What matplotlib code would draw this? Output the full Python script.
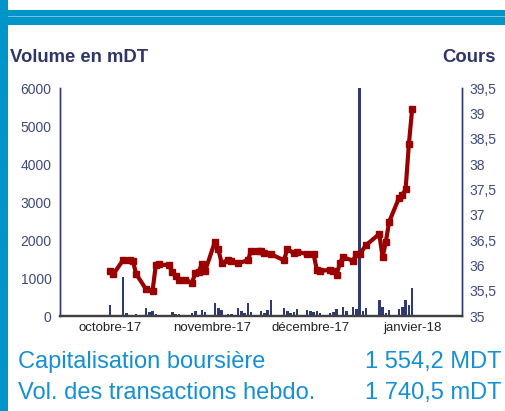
import numpy as np
import pandas as pd
import matplotlib
matplotlib.use("Agg")
import matplotlib.pyplot as plt
from matplotlib.patches import Rectangle
from matplotlib.ticker import FuncFormatter, MultipleLocator

plt.rcParams['font.family'] = ['Liberation Sans', 'DejaVu Sans']

# Cours (ligne rouge)
dates_cours = pd.to_datetime([
    "2017-10-01", "2017-10-02", "2017-10-05", "2017-10-07", "2017-10-08", "2017-10-09",
    "2017-10-12", "2017-10-14", "2017-10-15", "2017-10-16", "2017-10-19", "2017-10-20",
    "2017-10-21", "2017-10-22", "2017-10-24", "2017-10-26", "2017-10-27", "2017-10-28",
    "2017-10-29", "2017-10-30", "2017-11-02", "2017-11-03", "2017-11-04", "2017-11-06",
    "2017-11-07", "2017-11-09", "2017-11-12", "2017-11-13", "2017-11-15", "2017-11-16",
    "2017-11-17", "2017-11-19", "2017-11-23", "2017-11-24", "2017-11-26", "2017-11-27",
    "2017-11-30", "2017-12-02", "2017-12-03", "2017-12-04", "2017-12-07", "2017-12-08",
    "2017-12-09", "2017-12-10", "2017-12-11", "2017-12-14", "2017-12-15", "2017-12-16",
    "2017-12-18", "2017-12-22", "2017-12-23", "2017-12-24", "2017-12-25", "2017-12-28",
    "2017-12-29", "2017-12-30", "2017-12-31", "2018-01-01"])
cours = [35.89, 35.82, 36.10, 36.10, 36.09, 35.83, 35.53, 35.50, 36.01, 36.02, 36.00, 35.87,
         35.78, 35.71, 35.71, 35.66, 35.84, 35.87, 36.02, 35.89, 36.47, 36.32, 36.05, 36.10,
         36.08, 36.04, 36.10, 36.29, 36.29, 36.29, 36.24, 36.22, 36.10, 36.32, 36.24, 36.27,
         36.22, 36.22, 35.91, 35.89, 35.91, 35.89, 35.81, 36.04, 36.16, 36.09, 36.22, 36.22,
         36.40, 36.62, 36.16, 36.47, 36.86, 37.33, 37.39, 37.50, 38.39, 39.09]

# Volume en mDT (barres)
dates_vol = pd.to_datetime([
    "2017-10-01", "2017-10-02", "2017-10-05", "2017-10-06", "2017-10-09", "2017-10-12",
    "2017-10-13", "2017-10-14", "2017-10-15", "2017-10-20", "2017-10-21", "2017-10-22",
    "2017-10-24", "2017-10-26", "2017-10-27", "2017-10-29", "2017-10-30", "2017-11-02",
    "2017-11-03", "2017-11-04", "2017-11-06", "2017-11-07", "2017-11-09", "2017-11-10",
    "2017-11-11", "2017-11-12", "2017-11-13", "2017-11-16", "2017-11-17", "2017-11-18",
    "2017-11-19", "2017-11-23", "2017-11-24", "2017-11-25", "2017-11-26", "2017-11-27",
    "2017-11-30", "2017-12-01", "2017-12-02", "2017-12-03", "2017-12-04", "2017-12-07",
    "2017-12-08", "2017-12-09", "2017-12-11", "2017-12-12", "2017-12-14", "2017-12-15",
    "2017-12-16", "2017-12-17", "2017-12-18", "2017-12-22", "2017-12-23", "2017-12-24",
    "2017-12-25", "2017-12-28", "2017-12-29", "2017-12-30", "2017-12-31", "2018-01-01"])
volume = [290, 30, 1030, 70, 50, 220, 110, 130, 50, 100, 40, 60,
          30, 90, 120, 160, 110, 330, 200, 160, 60, 40, 220, 130,
          70, 330, 110, 130, 70, 160, 420, 220, 130, 70, 110, 180,
          160, 130, 110, 130, 70, 70, 110, 180, 250, 130, 250, 190,
          6000, 130, 220, 410, 250, 80, 150, 190, 250, 410, 280, 745]

mois_ticks = pd.to_datetime(["2017-10-01", "2017-11-01", "2017-12-01", "2018-01-01"])
mois_labels = ["octobre-17", "novembre-17", "décembre-17", "janvier-18"]

W, H = 506, 411
fig = plt.figure(figsize=(W / 100, H / 100), dpi=100)

# cadre bleu
bleu = "#0095C8"
fig.add_artist(Rectangle((0, 1 - 25 / H), 1, 15 / H, transform=fig.transFigure, color=bleu, lw=0))
fig.add_artist(Rectangle((0, 1 - 17.5 / H), 1, 1 / H, transform=fig.transFigure, color="#6cc3e4", lw=0))
fig.add_artist(Rectangle((0, 0), 8 / W, 1, transform=fig.transFigure, color=bleu, lw=0))

ax = fig.add_axes([60 / W, 1 - 316 / H, (462 - 60) / W, (316 - 88) / H])
ax2 = ax.twinx()

navy = "#2F3A72"
tickcol = "#3E4A7E"

ax.bar(dates_vol, volume, width=0.75, color=navy, zorder=2)
ax.set_ylim(0, 6000)
ax.yaxis.set_major_locator(MultipleLocator(1000))
ax.set_xlim(pd.Timestamp("2017-09-15 20:00"), pd.Timestamp("2018-01-16 04:00"))
ax.set_xticks(mois_ticks)
ax.set_xticklabels(mois_labels)

ax2.plot(dates_cours, cours, color="#9A0000", lw=3, marker="s", markersize=5,
         solid_joinstyle="round")
ax2.set_ylim(35, 39.5)
ax2.yaxis.set_major_locator(MultipleLocator(0.5))
ax2.yaxis.set_major_formatter(FuncFormatter(lambda v, p: f"{v:g}".replace(".", ",")))

for a in (ax, ax2):
    a.spines['top'].set_visible(False)
    a.spines['left'].set_color(navy)
    a.spines['right'].set_color(navy)
    a.spines['left'].set_linewidth(1.0)
    a.spines['right'].set_linewidth(1.0)
    a.spines['bottom'].set_color("#404040")
    a.spines['bottom'].set_linewidth(1.6)
    a.tick_params(length=0)
ax.tick_params(axis='y', labelsize=10, colors=tickcol, pad=6)
ax2.tick_params(axis='y', labelsize=10, colors=tickcol, pad=5)
ax.tick_params(axis='x', labelsize=9.5, colors="#222222", pad=4)

fig.text(10 / W, 1 - 57 / H, "Volume en mDT", fontsize=13.3, fontweight='bold',
         color="#2E3568", va='center', ha='left')
fig.text(496 / W, 1 - 57 / H, "Cours", fontsize=13.3, fontweight='bold',
         color="#2E3568", va='center', ha='right')

txtcol = "#1590D2"
fig.text(18 / W, 1 - 362 / H, "Capitalisation boursière", fontsize=17, color=txtcol,
         va='center', ha='left')
fig.text(18 / W, 1 - 393 / H, "Vol. des transactions hebdo.", fontsize=17, color=txtcol,
         va='center', ha='left')
fig.text(502 / W, 1 - 362 / H, "1 554,2 MDT", fontsize=17, color=txtcol,
         va='center', ha='right')
fig.text(502 / W, 1 - 393 / H, "1 740,5 mDT", fontsize=17, color=txtcol,
         va='center', ha='right')

fig.savefig("out.png", dpi=100)
